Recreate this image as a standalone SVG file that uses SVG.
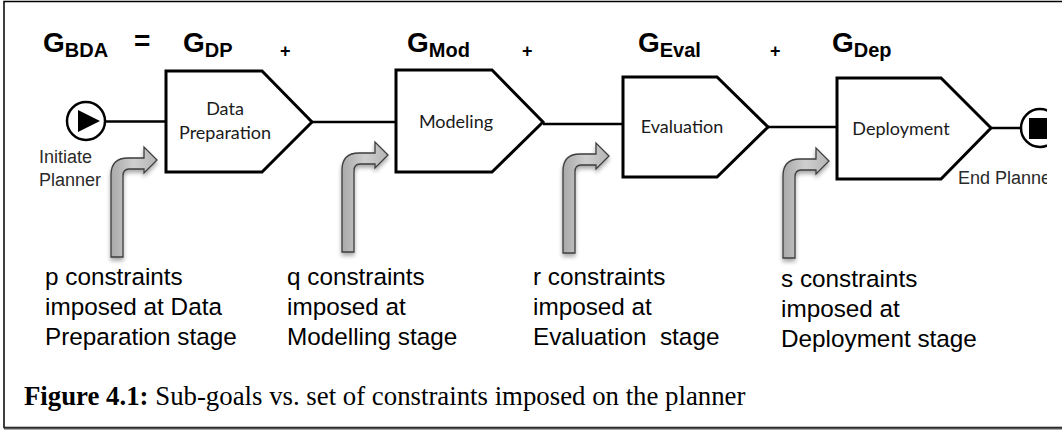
<svg xmlns="http://www.w3.org/2000/svg" width="1062" height="435" viewBox="0 0 1062 435">
  <style>
    .stage { fill: #ffffff; stroke: #000000; stroke-width: 3; stroke-linejoin: miter; }
    .link { fill: none; stroke: #000000; stroke-width: 2.5; }
    .goal { font-family: "Liberation Sans", Arial, sans-serif; font-weight: bold; fill: #000000; }
    .goal-main { font-size: 28px; }
    .goal-sub { font-size: 20px; }
    .plus { font-family: "Liberation Sans", Arial, sans-serif; font-weight: bold; font-size: 18px; }
    .stage-label { font-family: Lato, "Open Sans", sans-serif; font-size: 18px; fill: #1a1a1a; text-anchor: middle; }
    .event-label { font-family: "Liberation Sans", Arial, sans-serif; font-size: 18px; fill: #2a2a2a; }
    .note { font-family: "Liberation Sans", Arial, sans-serif; font-size: 24.3px; fill: #000000; white-space: pre; }
    .caption { font-family: "Liberation Serif", "Times New Roman", serif; font-size: 26.8px; fill: #000000; }
    .bend { fill: url(#bendFill); stroke: #3e3e3e; stroke-width: 1.3; filter: url(#softShadow); }
  </style>
  <defs>
    <linearGradient id="bendFill" x1="0" y1="0" x2="1" y2="0">
      <stop offset="0" stop-color="#a9a9a9"/>
      <stop offset="0.5" stop-color="#cfcfcf"/>
      <stop offset="1" stop-color="#b4b4b4"/>
    </linearGradient>
    <filter id="softShadow" x="-30%" y="-10%" width="160%" height="130%">
      <feGaussianBlur in="SourceAlpha" stdDeviation="2"/>
      <feOffset dx="0" dy="3" result="blur"/>
      <feComponentTransfer><feFuncA type="linear" slope="0.35"/></feComponentTransfer>
      <feMerge><feMergeNode/><feMergeNode in="SourceGraphic"/></feMerge>
    </filter>
    <!-- bent arrow pointing up then right; origin at stem bottom-left -->
    <path id="bentArrow" d="M0,0 L0,-82 Q0,-99 17,-99 L33,-99 L33,-110 L46,-97 L33,-84 L33,-88 L18,-88 Q12,-88 12,-81 L12,0 Z"/>
    <clipPath id="figClip"><rect x="0" y="0" width="1047" height="435"/></clipPath>
  </defs>

  <!-- outer frame -->
  <rect x="4" y="1.5" width="1070" height="426" fill="#ffffff" stroke="#000000" stroke-width="1.5"/>
  <line x1="4" y1="428.5" x2="1062" y2="428.5" stroke="#555555" stroke-width="2"/>

  <g clip-path="url(#figClip)">
    <!-- goal equation -->
    <g id="equation">
      <text class="goal" x="43" y="52"><tspan class="goal-main">G</tspan><tspan class="goal-sub" dy="5">BDA</tspan></text>
      <text class="goal goal-main" x="134" y="50">=</text>
      <text class="goal" x="183" y="52"><tspan class="goal-main">G</tspan><tspan class="goal-sub" dy="5">DP</tspan></text>
      <text class="plus" x="280" y="57">+</text>
      <text class="goal" x="407" y="52"><tspan class="goal-main">G</tspan><tspan class="goal-sub" dy="5">Mod</tspan></text>
      <text class="plus" x="522" y="57">+</text>
      <text class="goal" x="638" y="52"><tspan class="goal-main">G</tspan><tspan class="goal-sub" dy="5">Eval</tspan></text>
      <text class="plus" x="770" y="57">+</text>
      <text class="goal" x="832" y="52"><tspan class="goal-main">G</tspan><tspan class="goal-sub" dy="5">Dep</tspan></text>
    </g>

    <!-- connectors -->
    <g id="connectors">
      <line class="link" x1="105" y1="121.5" x2="166" y2="121.5"/>
      <line class="link" x1="312" y1="122" x2="396" y2="122"/>
      <line class="link" x1="543" y1="124" x2="623" y2="124"/>
      <line class="link" x1="768" y1="127" x2="837" y2="127"/>
      <line class="link" x1="991" y1="128" x2="1021" y2="128"/>
    </g>

    <g id="start">
      <circle cx="86" cy="121" r="19" fill="#ffffff" stroke="#000000" stroke-width="2.5"/>
      <path d="M78,110 L78,132 L100,121 Z" fill="#000000"/>
      <text class="event-label" x="39" y="163">Initiate</text>
      <text class="event-label" x="39" y="186">Planner</text>
    </g>

    <g id="data-preparation">
      <path class="stage" d="M166,71 L262,71 L312,122 L262,172 L166,172 Z"/>
      <text class="stage-label" x="225" y="115">Data</text>
      <text class="stage-label" x="225" y="139">Preparation</text>
    </g>

    <g id="modeling">
      <path class="stage" d="M396,70 L492,70 L543,122 L492,172 L396,172 Z"/>
      <text class="stage-label" x="456" y="128">Modeling</text>
    </g>

    <g id="evaluation">
      <path class="stage" d="M623,77 L717,77 L768,127 L717,177 L623,177 Z"/>
      <text class="stage-label" x="682" y="133">Evaluation</text>
    </g>

    <g id="deployment">
      <path class="stage" d="M837,78 L941,78 L991,128 L941,179 L837,179 Z"/>
      <text class="stage-label" x="901" y="135">Deployment</text>
    </g>

    <g id="end">
      <circle cx="1040" cy="128" r="19" fill="#ffffff" stroke="#000000" stroke-width="2.5"/>
      <rect x="1029" y="118" width="21" height="21" fill="#000000"/>
      <text class="event-label" x="958" y="184">End Planner</text>
    </g>

    <!-- constraint inputs -->
    <g id="constraints-dp">
      <use href="#bentArrow" class="bend" x="111" y="257"/>
      <text class="note" x="45" y="285">p constraints</text>
      <text class="note" x="45" y="315">imposed at Data</text>
      <text class="note" x="45" y="345">Preparation stage</text>
    </g>
    <g id="constraints-mod">
      <use href="#bentArrow" class="bend" x="342" y="252"/>
      <text class="note" x="287" y="285">q constraints</text>
      <text class="note" x="287" y="315">imposed at</text>
      <text class="note" x="287" y="345">Modelling stage</text>
    </g>
    <g id="constraints-eval">
      <use href="#bentArrow" class="bend" x="563" y="253"/>
      <text class="note" x="533" y="285">r constraints</text>
      <text class="note" x="533" y="315">imposed at</text>
      <text class="note" x="533" y="345">Evaluation  stage</text>
    </g>
    <g id="constraints-dep">
      <use href="#bentArrow" class="bend" x="783" y="258"/>
      <text class="note" x="781" y="287">s constraints</text>
      <text class="note" x="781" y="317">imposed at</text>
      <text class="note" x="781" y="347">Deployment stage</text>
    </g>
  </g>

  <!-- caption -->
  <text class="caption" x="24" y="405"><tspan font-weight="bold">Figure 4.1:</tspan> Sub-goals vs. set of constraints imposed on the planner</text>
</svg>
